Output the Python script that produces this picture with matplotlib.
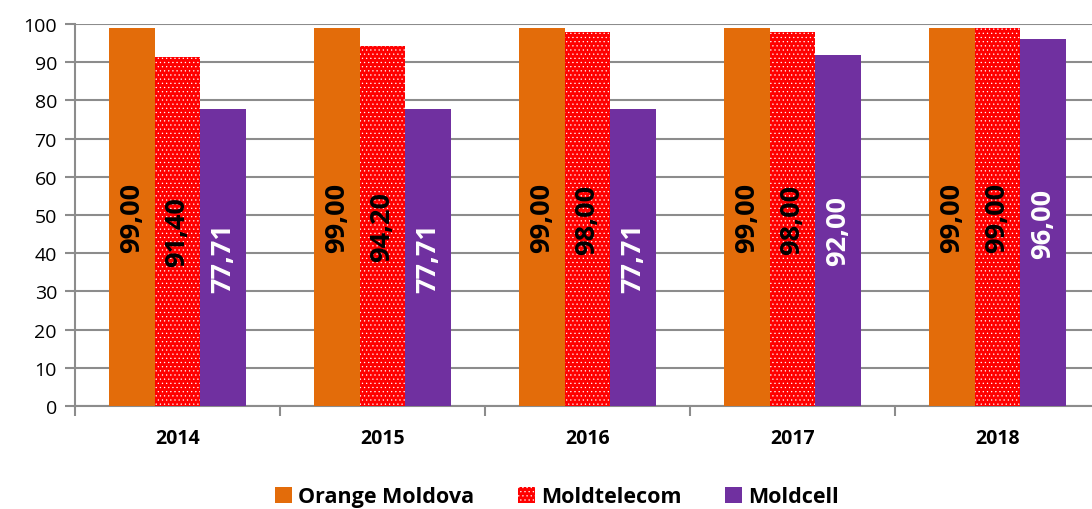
import matplotlib.pyplot as plt
import numpy as np

plt.rcParams['font.family'] = ['Open Sans', 'DejaVu Sans']
plt.rcParams['hatch.linewidth'] = 0.4

years = ['2014', '2015', '2016', '2017', '2018']
orange = [99.00, 99.00, 99.00, 99.00, 99.00]
moldtelecom = [91.40, 94.20, 98.00, 98.00, 99.00]
moldcell = [77.71, 77.71, 77.71, 92.00, 96.00]

series = [
    ('Orange Moldova', orange, '#E36C0A', None, 'black'),
    ('Moldtelecom', moldtelecom, '#FF0000', '....', 'black'),
    ('Moldcell', moldcell, '#7030A0', None, 'white'),
]

fig = plt.figure(figsize=(10.92, 5.10), dpi=100)
ax = fig.add_axes([75 / 1092, 1 - 407 / 510, 1025 / 1092, 382 / 510])

x = np.arange(len(years))
w = 0.222
for i, (name, vals, col, hatch, tcol) in enumerate(series):
    pos = x + (i - 1) * w
    ax.bar(pos, vals, w, color=col, hatch=hatch,
           edgecolor='white' if hatch else col, linewidth=0, label=name, zorder=3)
    for xp, v in zip(pos, vals):
        ax.text(xp, v / 2, f'{v:.2f}'.replace('.', ','), rotation=90,
                ha='center', va='center', fontsize=19.5, fontweight='bold',
                color=tcol, zorder=4)

ax.set_xlim(-0.5, len(years) - 0.5)
ax.set_ylim(0, 100)
ax.set_yticks(np.arange(0, 101, 10))
ax.yaxis.grid(True, color='#8c8c8c', linewidth=1.5, zorder=0)
ax.set_xticks(x)
ax.set_xticklabels(years, fontweight='bold', fontsize=14)
ax.set_xticks(np.arange(-0.5, len(years), 1), minor=True)
ax.tick_params(axis='x', which='major', length=0, pad=16)
ax.tick_params(axis='x', which='minor', length=7, color='#8c8c8c', width=1.5)
ax.tick_params(axis='y', length=7, color='#8c8c8c', width=1.5, labelsize=14, pad=6)
for s in ['top', 'right']:
    ax.spines[s].set_visible(False)
for s in ['left', 'bottom']:
    ax.spines[s].set_color('#8c8c8c')
    ax.spines[s].set_linewidth(1.5)

leg = fig.legend(loc='lower center', bbox_to_anchor=(0.51, -0.035), ncol=3, frameon=False,
                 prop={'weight': 'bold', 'size': 15.5}, handlelength=0.8, handleheight=0.8,
                 handletextpad=0.3, columnspacing=2.0)

plt.savefig('out.png', dpi=100)
plt.close()
